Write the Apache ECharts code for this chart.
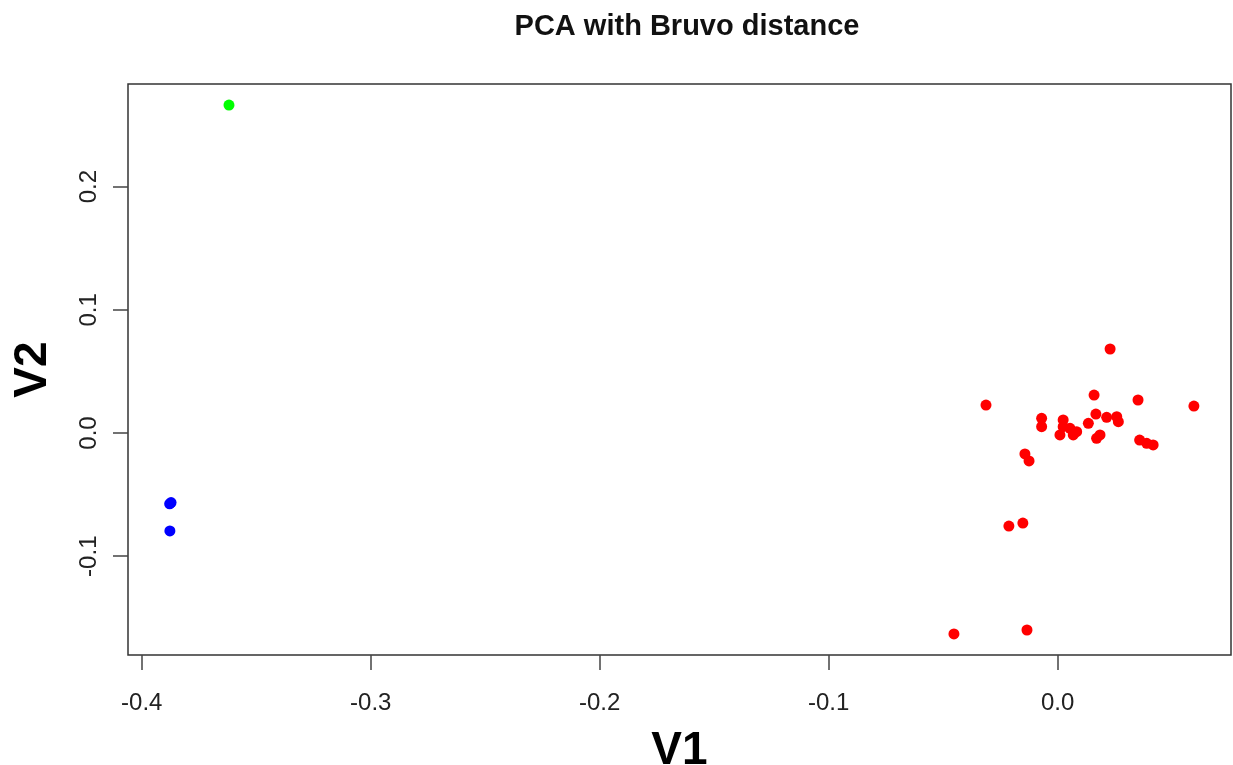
<!DOCTYPE html>
<html>
<head>
<meta charset="utf-8">
<script src="https://cdn.jsdelivr.net/npm/echarts@6/dist/echarts.min.js"></script>
<style>
  html, body { margin: 0; padding: 0; background: #fff; }
  #main { width: 1233px; height: 765px; }
</style>
</head>
<body>
<div id="main"></div>
<script>
// PCA 坐标 (V1, V2)，按组分开
var groupGreen = [
  [-0.3619, 0.2662]
];
var groupBlue = [
  [-0.3872, -0.0565],
  [-0.3878, -0.0575],
  [-0.3877, -0.0795]
];
var groupRed = [
  [0.0229, 0.0682],
  [-0.0313, 0.0227],
  [0.0159, 0.0308],
  [0.0351, 0.0268],
  [0.0595, 0.0219],
  [-0.0070, 0.0119],
  [-0.0070, 0.0051],
  [0.0024, 0.0106],
  [0.0024, 0.0051],
  [0.0054, 0.0038],
  [0.0083, 0.0011],
  [0.0010, -0.0016],
  [0.0068, -0.0016],
  [0.0134, 0.0079],
  [0.0167, 0.0154],
  [0.0214, 0.0127],
  [0.0258, 0.0132],
  [0.0265, 0.0092],
  [0.0185, -0.0016],
  [0.0170, -0.0043],
  [0.0358, -0.0057],
  [0.0389, -0.0084],
  [0.0417, -0.0097],
  [-0.0143, -0.0170],
  [-0.0125, -0.0227],
  [-0.0213, -0.0755],
  [-0.0152, -0.0731],
  [-0.0453, -0.1631],
  [-0.0134, -0.1599]
];
var xTicks = [-0.4, -0.3, -0.2, -0.1, 0.0];
var yTicks = [-0.1, 0.0, 0.1, 0.2];

var fontTick = 24;
var myChart = echarts.init(document.getElementById('main'));

var option = {
  backgroundColor: '#fff',
  animation: false,
  title: {
    text: 'PCA with Bruvo distance',
    left: 682,
    textAlign: 'center',
    top: 7,
    textStyle: {
      fontFamily: 'Liberation Sans',
      fontWeight: 'bold',
      fontSize: 29,
      color: '#111'
    }
  },
  grid: {
    left: 128,
    right: 2,
    top: 84,
    bottom: 110,
    show: true,
    borderColor: '#333',
    borderWidth: 1.5,
    containLabel: false,
    outerBoundsMode: 'none'
  },
  xAxis: {
    type: 'value',
    min: -0.406,
    max: 0.0757,
    name: 'V1',
    nameLocation: 'middle',
    nameGap: 73,
    nameTextStyle: {
      fontFamily: 'Liberation Sans',
      fontWeight: 'bold',
      fontSize: 46,
      color: '#000'
    },
    axisLine: { show: false, onZero: false },
    splitLine: { show: false },
    axisTick: {
      show: true,
      length: 15,
      customValues: xTicks,
      lineStyle: { color: '#444', width: 1.5 }
    },
    axisLabel: {
      customValues: xTicks,
      margin: 36,
      fontFamily: 'Liberation Sans',
      fontSize: fontTick,
      color: '#222',
      formatter: function (v) { return v.toFixed(1); }
    }
  },
  yAxis: {
    type: 'value',
    min: -0.1802,
    max: 0.2833,
    name: 'V2',
    nameLocation: 'middle',
    nameGap: 72,
    nameTextStyle: {
      fontFamily: 'Liberation Sans',
      fontWeight: 'bold',
      fontSize: 46,
      color: '#000'
    },
    axisLine: { show: false, onZero: false },
    splitLine: { show: false },
    axisTick: {
      show: true,
      length: 15,
      customValues: yTicks,
      lineStyle: { color: '#444', width: 1.5 }
    },
    axisLabel: {
      customValues: yTicks,
      rotate: 90,
      margin: 27,
      fontFamily: 'Liberation Sans',
      fontSize: fontTick,
      color: '#222',
      formatter: function (v) { return v.toFixed(1); }
    }
  },
  series: [
    {
      name: 'green',
      type: 'scatter',
      symbolSize: 11,
      itemStyle: { color: '#00ff00', opacity: 1 },
      data: groupGreen
    },
    {
      name: 'blue',
      type: 'scatter',
      symbolSize: 11,
      itemStyle: { color: '#0000ff', opacity: 1 },
      data: groupBlue
    },
    {
      name: 'red',
      type: 'scatter',
      symbolSize: 11,
      itemStyle: { color: '#ff0000', opacity: 1 },
      data: groupRed
    }
  ]
};

myChart.setOption(option);
</script>
</body>
</html>
